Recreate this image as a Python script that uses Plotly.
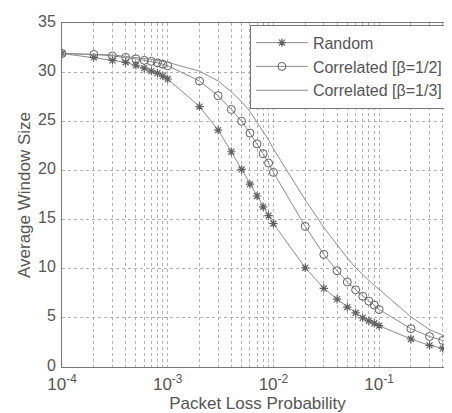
import plotly.graph_objects as go

# Packet loss probabilities (x)
loss_prob = [1e-4, 2e-4, 3e-4, 4e-4, 5e-4, 6e-4, 7e-4, 8e-4, 9e-4,
             1e-3, 2e-3, 3e-3, 4e-3, 5e-3, 6e-3, 7e-3, 8e-3, 9e-3,
             1e-2, 2e-2, 3e-2, 4e-2, 5e-2, 6e-2, 7e-2, 8e-2, 9e-2,
             1e-1, 2e-1, 3e-1, 4e-1, 5e-1]

random_w = [31.9, 31.5, 31.2, 31.0, 30.7, 30.4, 30.1, 29.9, 29.6,
            29.3, 26.5, 24.1, 21.9, 20.1, 18.6, 17.4, 16.3, 15.4,
            14.6, 10.1, 8.0, 6.9, 6.1, 5.5, 5.0, 4.7, 4.45,
            4.2, 2.85, 2.2, 1.9, 1.7]

corr_half = [31.9, 31.8, 31.65, 31.5, 31.35, 31.2, 31.1, 30.95, 30.8,
             30.65, 29.1, 27.6, 26.2, 25.0, 23.8, 22.7, 21.7, 20.75,
             19.8, 14.3, 11.45, 9.8, 8.65, 7.85, 7.2, 6.7, 6.3,
             5.85, 3.9, 3.1, 2.7, 2.45]

corr_third = [31.9, 31.85, 31.75, 31.6, 31.5, 31.4, 31.3, 31.2, 31.1,
              31.0, 30.1, 29.1, 28.0, 27.0, 26.0, 24.9, 23.9, 23.1,
              22.2, 17.0, 14.2, 12.4, 11.1, 10.1, 9.4, 8.8, 8.3,
              7.9, 5.1, 3.8, 3.2, 2.8]

series_names = ["Random", "Correlated [\u03b2=1/2]", "Correlated [\u03b2=1/3]"]

decades = [1e-4, 1e-3, 1e-2, 1e-1]
decade_labels = ["10<sup>-4</sup>", "10<sup>-3</sup>", "10<sup>-2</sup>", "10<sup>-1</sup>"]
y_ticks = [0, 5, 10, 15, 20, 25, 30, 35]

line_col = "#8c8c8c"
mark_col = "#606060"
text_col = "#555555"
grid_col = "#b0b0b0"

fig = go.Figure()
fig.add_trace(go.Scatter(
    x=loss_prob, y=random_w, name=series_names[0], mode="lines+markers",
    line=dict(color=line_col, width=1),
    marker=dict(symbol="asterisk", size=7, color=mark_col,
                line=dict(color=mark_col, width=1.2))))
fig.add_trace(go.Scatter(
    x=loss_prob, y=corr_half, name=series_names[1], mode="lines+markers",
    line=dict(color=line_col, width=1),
    marker=dict(symbol="circle-open", size=8, color=mark_col,
                line=dict(color=mark_col, width=1))))
fig.add_trace(go.Scatter(
    x=loss_prob, y=corr_third, name=series_names[2], mode="lines",
    line=dict(color=line_col, width=1)))

fig.update_layout(
    width=452, height=413,
    margin=dict(l=54, r=7, t=15, b=54),
    paper_bgcolor="white", plot_bgcolor="white",
    font=dict(family="Liberation Sans, Arial, sans-serif", size=16, color=text_col),
    showlegend=True,
    legend=dict(x=0.987, y=0.995, xanchor="right", yanchor="top",
                bgcolor="white", bordercolor="#777777", borderwidth=1,
                font=dict(size=16, color=text_col),
                tracegroupgap=0, itemwidth=52),
    xaxis=dict(
        type="log", range=[-4, -0.301],
        tickvals=decades, ticktext=decade_labels,
        showgrid=True, gridcolor=grid_col, griddash="dot", gridwidth=1,
        minor=dict(dtick="D1", showgrid=True, gridcolor=grid_col,
                   griddash="dot", gridwidth=1, ticks=""),
        showline=True, linecolor="#777777", linewidth=1, mirror=True,
        ticks="", zeroline=False, automargin=False, ticklabelstandoff=2,
        title=dict(text="Packet Loss Probability", font=dict(size=17, color=text_col), standoff=0),
        tickfont=dict(size=17, color=text_col)),
    yaxis=dict(
        range=[0, 35], tickvals=y_ticks,
        showgrid=True, gridcolor=grid_col, griddash="dot", gridwidth=1,
        showline=True, linecolor="#777777", linewidth=1, mirror=True,
        ticks="", zeroline=False, automargin=False, ticklabelstandoff=2,
        ticklabelshift=-2,
        title=dict(text="Average Window Size", font=dict(size=17, color=text_col), standoff=3),
        tickfont=dict(size=16, color=text_col)),
)

fig.write_html("out.html")
